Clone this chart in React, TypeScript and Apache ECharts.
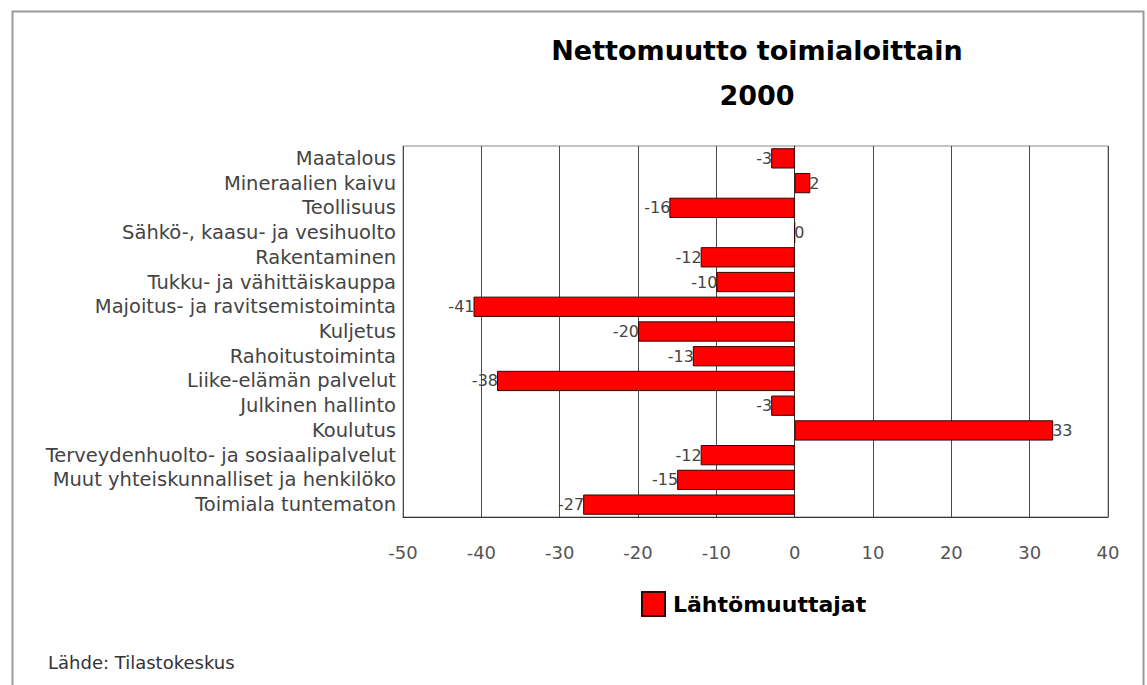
import React, { useEffect, useRef } from "react";
import * as echarts from "echarts";

const categories = [
  "Maatalous",
  "Mineraalien kaivu",
  "Teollisuus",
  "Sähkö-, kaasu- ja vesihuolto",
  "Rakentaminen",
  "Tukku- ja vähittäiskauppa",
  "Majoitus- ja ravitsemistoiminta",
  "Kuljetus",
  "Rahoitustoiminta",
  "Liike-elämän palvelut",
  "Julkinen hallinto",
  "Koulutus",
  "Terveydenhuolto- ja sosiaalipalvelut",
  "Muut yhteiskunnalliset ja henkilöko",
  "Toimiala tuntematon",
];
const values = [-3, 2, -16, 0, -12, -10, -41, -20, -13, -38, -3, 33, -12, -15, -27];
const seriesName = "Lähtömuuttajat";
const titleLines = ["Nettomuutto toimialoittain", "2000"];
const sourceText = "Lähde: Tilastokeskus";
const xMin = -50;
const xMax = 40;
const xStep = 10;

export default function App() {
  const ref = useRef<HTMLDivElement>(null);
  useEffect(() => {
    if (!ref.current) return;
    const chart = echarts.init(ref.current, null, { renderer: "svg" });
    const font = "DejaVu Sans";
    const splitColors: string[] = [];
    for (let v = xMin; v <= xMax; v += xStep) {
      splitColors.push(v === 0 ? "rgba(0,0,0,0)" : "#4a4a4a");
    }
    chart.setOption({
      animation: false,
      backgroundColor: "#ffffff",
      grid: {
        left: 403,
        right: 39,
        top: 146,
        bottom: 168,
        show: true,
        borderColor: "#8a8a8a",
        borderWidth: 1,
        containLabel: false,
      },
      legend: {
        show: true,
        left: 641,
        top: 591,
        padding: 0,
        itemWidth: 23,
        itemHeight: 24,
        itemGap: 10,
        icon: "rect",
        data: [seriesName],
        textStyle: {
          fontFamily: font,
          fontWeight: "bold",
          fontSize: 22,
          color: "#000",
          padding: [0, 0, 0, 3],
        },
      },
      xAxis: {
        type: "value",
        min: xMin,
        max: xMax,
        interval: xStep,
        axisLine: { show: true, lineStyle: { color: "#333", width: 1 } },
        axisTick: { show: false },
        axisLabel: {
          margin: 26,
          fontFamily: font,
          fontSize: 18,
          color: "#555",
        },
        splitLine: { show: true, lineStyle: { color: splitColors, width: 1 } },
      },
      yAxis: {
        type: "category",
        data: categories,
        inverse: true,
        axisLine: { show: true, lineStyle: { color: "#333", width: 1 } },
        axisTick: { show: false },
        axisLabel: {
          interval: 0,
          margin: 7,
          fontFamily: font,
          fontSize: 19.5,
          color: "#444",
        },
        splitLine: { show: false },
      },
      series: [
        {
          name: seriesName,
          type: "bar",
          data: values,
          barCategoryGap: "18%",
          itemStyle: { color: "#ff0000", borderColor: "#3a0000", borderWidth: 1 },
          label: {
            show: true,
            position: "outside",
            distance: -1,
            fontFamily: font,
            fontSize: 16,
            color: "#444",
          },
        },
      ],
      graphic: [
        {
          type: "rect",
          left: 10,
          top: 9,
          shape: { width: 1131, height: 700 },
          style: { fill: "none", stroke: "#9a9a9a", lineWidth: 2 },
          silent: true,
          z: -10,
        },
        {
          type: "text",
          x: 757,
          y: 37,
          style: {
            text: titleLines[0],
            font: `bold 27px "${font}"`,
            fill: "#000",
            textAlign: "center",
            textVerticalAlign: "top",
          },
        },
        {
          type: "text",
          x: 757,
          y: 82,
          style: {
            text: titleLines[1],
            font: `bold 27px "${font}"`,
            fill: "#000",
            textAlign: "center",
            textVerticalAlign: "top",
          },
        },
        {
          type: "text",
          x: 48,
          y: 653,
          style: {
            text: sourceText,
            font: `18px "${font}"`,
            fill: "#333",
            textAlign: "left",
            textVerticalAlign: "top",
          },
        },
      ],
    });
    return () => chart.dispose();
  }, []);
  return (
    <div
      ref={ref}
      style={{ position: "absolute", left: 0, top: 0, width: 1147, height: 685, background: "#fff" }}
    />
  );
}
